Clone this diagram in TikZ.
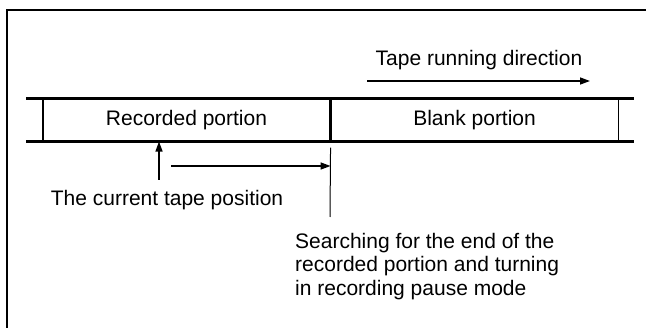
\documentclass[tikz,border=0pt]{standalone}
\usepackage{fontspec}
\setmainfont{Liberation Sans}
\usetikzlibrary{positioning, arrows.meta, calc}

\tikzset{
  tapecell/.style={draw, line width=1.1pt, minimum width=287pt, minimum height=42pt,
                   inner sep=0pt, font=\fontsize{21}{24}\selectfont},
  tapeedge/.style={line width=2.2pt},
  label/.style={inner sep=0pt, font=\fontsize{21}{23.5}\selectfont},
  arrowline/.style={line width=1.4pt, -{Triangle[length=10pt, width=7pt]}}
}

\begin{document}
\begin{tikzpicture}[x=1pt, y=-1pt]
    \useasboundingbox (0,0) rectangle (646,328);
    % frame, cut by the page on the right and at the bottom
    \draw[line width=1.5pt] (7,10) rectangle (700,400);

    % the tape
    \node[tapecell] (rec) at (186.5,120) {Recorded portion};
    \node[tapecell, right=0pt of rec] (blank) {Blank portion};
    \draw[tapeedge] ($(rec.north west)+(-16,0)$) -- ($(blank.north east)+(15,0)$);
    \draw[tapeedge] ($(rec.south west)+(-16,0)$) -- ($(blank.south east)+(15,0)$);

    % running direction
    \node[label, anchor=base] (dir) at (479,66) {Tape running direction};
    \coordinate (dirfrom) at (367,81);
    \coordinate (dirto) at (590,81);
    \draw[arrowline] (dirfrom) -- (dirto);

    % current position and search
    \node[label, anchor=base] (curpos) at (167,206) {The current tape position};
    \coordinate (upfoot) at (159,180);
    \draw[arrowline] (upfoot) -- (upfoot |- rec.south);
    \coordinate (runfrom) at (171,166);
    \draw[arrowline] (runfrom) -- (runfrom -| rec.south east);
    \coordinate (endmark) at (330,217);
    \draw[line width=1pt] ($(rec.south east)+(0,6)$) -- (endmark);

    \node[label, anchor=north west, align=left] (search) at (295,233)
      {Searching for the end of the\\recorded portion and turning\\in recording pause mode};
\end{tikzpicture}
\end{document}
